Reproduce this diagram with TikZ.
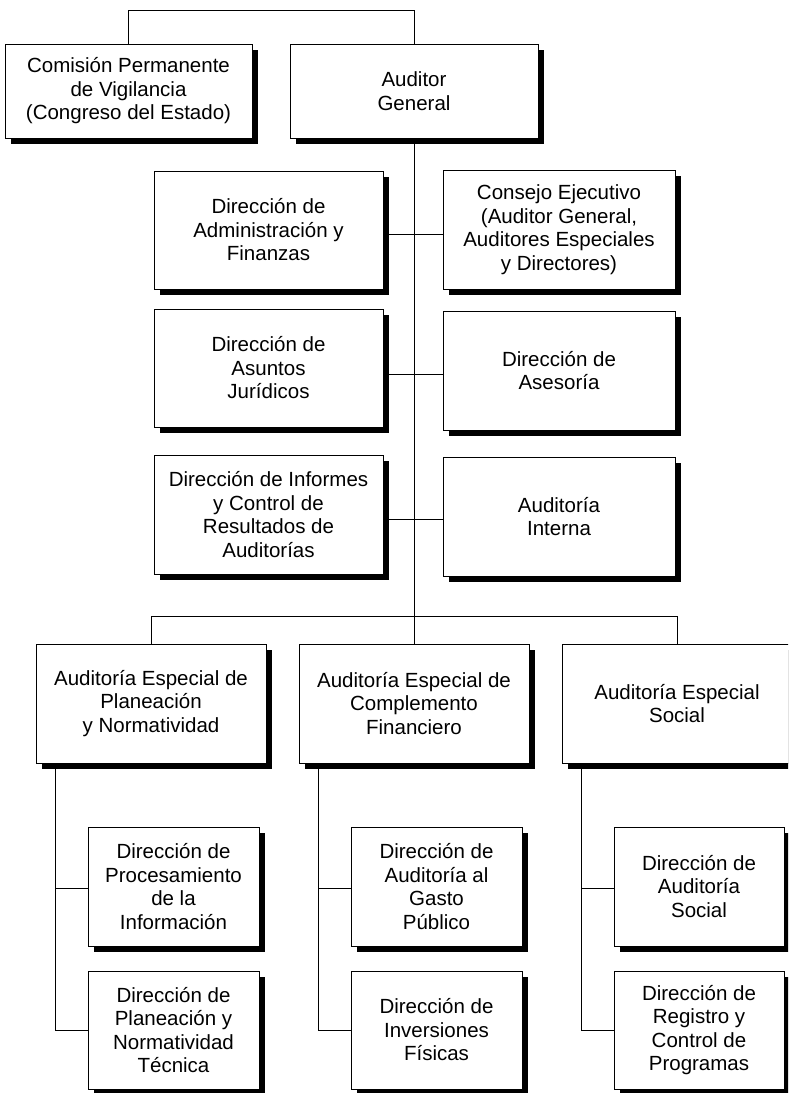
\documentclass[tikz,border=0pt]{standalone}
\usepackage{fontspec}
\setmainfont{Liberation Sans}
\usetikzlibrary{shadows}
\begin{document}
\begin{tikzpicture}[x=1pt,y=-1pt,
  orgbox/.style={draw=black, line width=0.9pt, fill=white, inner sep=0pt, align=center,
    font=\fontsize{20.5}{23.5}\selectfont,
    drop shadow={shadow xshift=5.5pt, shadow yshift=-5.5pt, fill=black, opacity=1}},
  bigbox/.style={orgbox, minimum width=229pt, minimum height=118pt},
  subbox/.style={orgbox, minimum width=171pt, minimum height=119pt},
  link/.style={draw=black, line width=0.9pt}]
\useasboundingbox (0,0) rectangle (788,1093);
\begin{scope}
\clip (0,0) rectangle (788,1093);
% top row
\node[orgbox, minimum width=247pt, minimum height=94pt] (com) at (128.5,91) {Comisión Permanente\\de Vigilancia\\(Congreso del Estado)};
\node[orgbox, minimum width=248pt, minimum height=94pt] (aud) at (414,91) {Auditor\\General};
% staff rows
\node[bigbox] (admin) at (268.5,230) {Dirección de\\Administración y\\Finanzas};
\node[bigbox, minimum width=232pt, minimum height=119pt] (cons) at (559,229.5) {Consejo Ejecutivo\\(Auditor General,\\Auditores Especiales\\y Directores)};
\node[bigbox] (jur) at (268.5,368) {Dirección de\\Asuntos\\Jurídicos};
\node[bigbox, minimum width=232pt, minimum height=119pt] (ases) at (559,370.5) {Dirección de\\Asesoría};
\node[bigbox, minimum height=119pt] (inf) at (268.5,514.5) {Dirección de Informes\\y Control de\\Resultados de\\Auditorías};
\node[bigbox, minimum width=232pt, minimum height=119pt] (int) at (559,516.5) {Auditoría\\Interna};
% special audits
\node[bigbox, minimum width=230pt, minimum height=119pt] (plan) at (151,703.5) {Auditoría Especial de\\Planeación\\y Normatividad};
\node[bigbox, minimum width=230pt, minimum height=119pt] (comp) at (414,703.5) {Auditoría Especial de\\Complemento\\Financiero};
\node[bigbox, minimum width=230pt, minimum height=119pt] (soc) at (677,703.5) {Auditoría Especial\\Social};
% sub directions
\node[subbox] (proc) at (173.5,886.5) {Dirección de\\Procesamiento\\de la\\Información};
\node[subbox, minimum height=118pt] (tec) at (173.5,1030) {Dirección de\\Planeación y\\Normatividad\\Técnica};
\node[subbox] (gasto) at (436.5,886.5) {Dirección de\\Auditoría al\\Gasto\\Público};
\node[subbox, minimum height=118pt] (fis) at (436.5,1030) {Dirección de\\Inversiones\\Físicas};
\node[subbox, minimum width=170pt] (asoc) at (699,886.5) {Dirección de\\Auditoría\\Social};
\node[subbox, minimum width=170pt, minimum height=118pt] (prog) at (699,1030) {Dirección de\\Registro y\\Control de\\Programas};
% connectors
\draw[link] (com.north) -- ++(0,-33) -| (aud.north);
\draw[link] (aud.south) -- (comp.north);
\draw[link] ([yshift=-4pt]admin.east) -- ([yshift=-4pt]admin.east -| cons.west);
\draw[link] ([yshift=-6pt]jur.east) -- ([yshift=-6pt]jur.east -| ases.west);
\draw[link] ([yshift=-5pt]inf.east) -- ([yshift=-5pt]inf.east -| int.west);
\draw[link] (plan.north) -- ++(0,-27) -| (soc.north);
\coordinate (v1) at ([xshift=20pt]plan.south west);
\coordinate (v2) at ([xshift=20pt]comp.south west);
\coordinate (v3) at ([xshift=20pt]soc.south west);
\draw[link] (v1) |- (tec.west);
\draw[link] ([yshift=-2pt]proc.west) -- ([yshift=-2pt]proc.west -| v1);
\draw[link] (v2) |- (fis.west);
\draw[link] ([yshift=-2pt]gasto.west) -- ([yshift=-2pt]gasto.west -| v2);
\draw[link] (v3) |- (prog.west);
\draw[link] ([yshift=-2pt]asoc.west) -- ([yshift=-2pt]asoc.west -| v3);
\end{scope}
\end{tikzpicture}
\end{document}
